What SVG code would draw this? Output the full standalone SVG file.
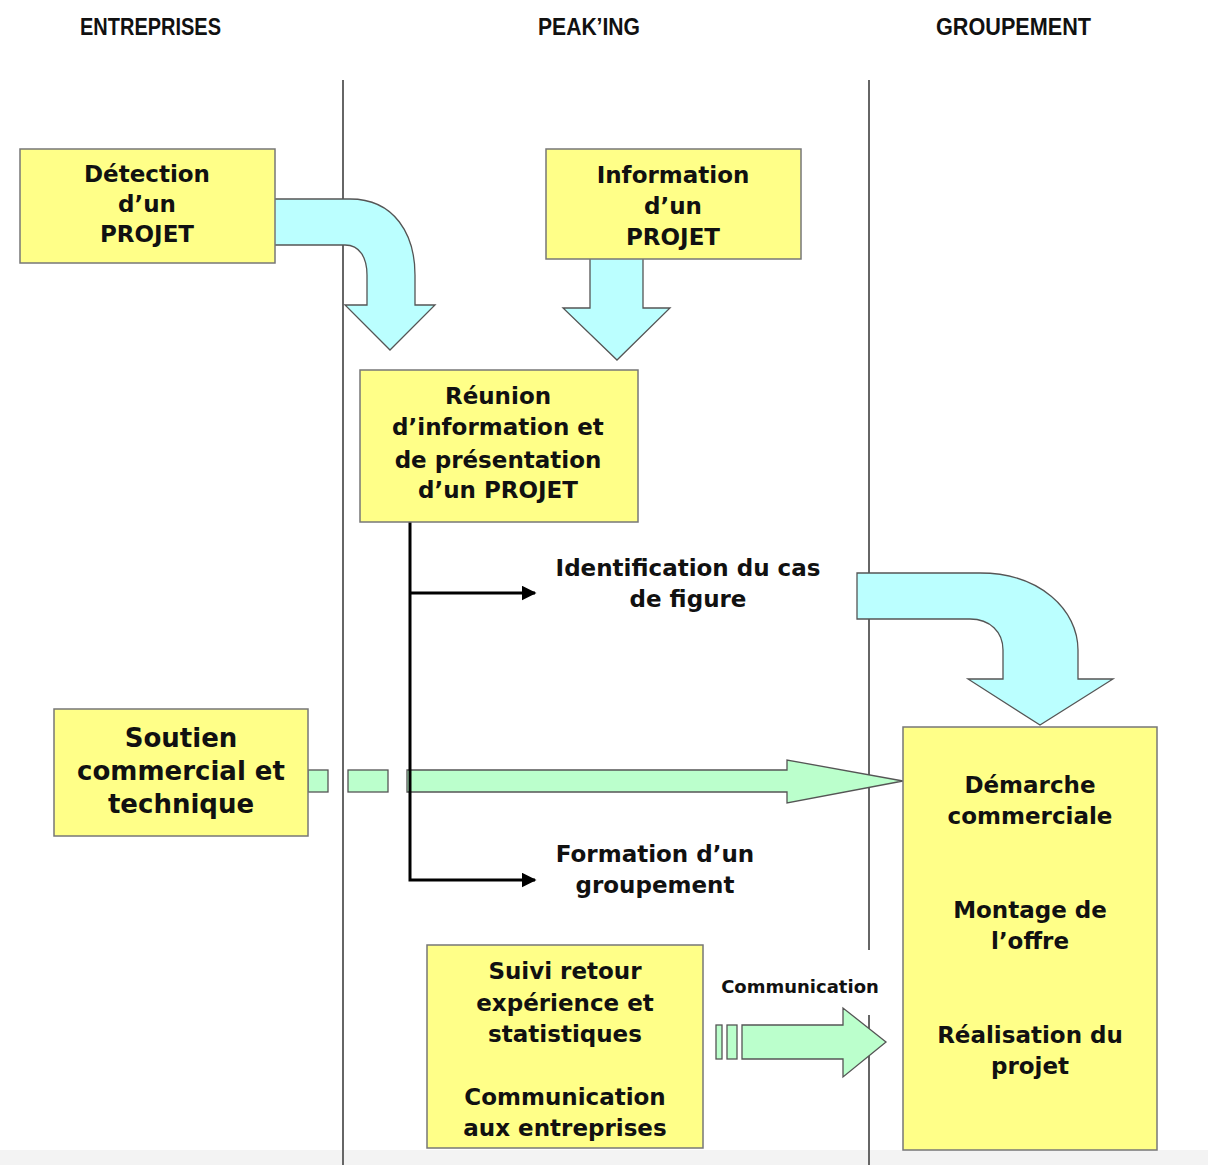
<svg xmlns="http://www.w3.org/2000/svg" width="1208" height="1165" viewBox="0 0 1208 1165">
<defs>
<marker id="ah" viewBox="0 0 10 10" refX="9" refY="5" markerWidth="5" markerHeight="5" markerUnits="strokeWidth" orient="auto">
<path d="M0,0 L10,5 L0,10 Z" fill="#000"/>
</marker>
<style>
.box{fill:#ffff88;stroke:#777;stroke-width:1.5}
.cy{fill:#bbffff;stroke:#555;stroke-width:1.3}
.gr{fill:#bbffcc;stroke:#555;stroke-width:1.3}
.t{font-family:"DejaVu Sans",Verdana,sans-serif;font-weight:bold;font-size:23px;fill:#111;text-anchor:middle}
.big{font-size:26px}
.sm{font-size:18px}
.h{font-family:"Liberation Sans",Arial,sans-serif;font-weight:bold;font-size:24px;fill:#111}
.lane{stroke:#666;stroke-width:2;fill:none}
.conn{stroke:#000;stroke-width:3;fill:none}
</style>
</defs>
<rect x="0" y="0" width="1208" height="1165" fill="#fff"/>
<rect x="0" y="1150" width="1208" height="15" fill="#f3f3f3"/>
<g id="headers">
<text class="h" x="80" y="35" textLength="141" lengthAdjust="spacingAndGlyphs">ENTREPRISES</text>
<text class="h" x="538" y="35" textLength="102" lengthAdjust="spacingAndGlyphs">PEAK’ING</text>
<text class="h" x="936" y="35" textLength="155" lengthAdjust="spacingAndGlyphs">GROUPEMENT</text>
</g>
<g id="lanes">
<line class="lane" x1="343" y1="80" x2="343" y2="1165"/>
<line class="lane" x1="869" y1="80" x2="869" y2="950"/>
<line class="lane" x1="869" y1="1015" x2="869" y2="1165"/>
</g>
<g id="connectors">
<path class="cy" d="M272,199 L350,199 C395,199 415,235 415,275 L415,305 L435,305 L390,350 L345,305 L367,305 L367,275 C367,258 360,245 345,245 L272,245 Z"/>
<path class="cy" d="M590,257 L643,257 L643,308 L670,308 L617,360 L563,308 L590,308 Z"/>
<path class="cy" d="M857,573 L980,573 C1040,573 1078,610 1078,650 L1078,679 L1113,679 L1040,725 L968,679 L1003,679 L1003,650 C1003,632 990,619 970,619 L857,619 Z"/>
<rect class="gr" x="308" y="770" width="20" height="22"/>
<rect class="gr" x="348" y="770" width="40" height="22"/>
<path class="gr" d="M407,770 L787,770 L787,760 L903,781 L787,803 L787,792 L407,792 Z"/>
<path class="conn" d="M410,522 L410,880 L535,880" marker-end="url(#ah)"/>
<path class="conn" d="M410,593 L535,593" marker-end="url(#ah)"/>
<rect class="gr" x="716" y="1025" width="6" height="34"/>
<rect class="gr" x="727" y="1025" width="10" height="34"/>
<path class="gr" d="M742,1025 L843,1025 L843,1008 L886,1042 L843,1077 L843,1059 L742,1059 Z"/>
<text class="t sm" x="800" y="993">Communication</text>
<text class="t" x="688" y="576">Identification du cas</text>
<text class="t" x="688" y="607">de figure</text>
<text class="t" x="655" y="862">Formation d’un</text>
<text class="t" x="655" y="893">groupement</text>
</g>
<g id="detection">
<rect class="box" x="20" y="149" width="255" height="114"/>
<text class="t" x="147" y="182">Détection</text>
<text class="t" x="147" y="212">d’un</text>
<text class="t" x="147" y="242">PROJET</text>
</g>
<g id="information">
<rect class="box" x="546" y="149" width="255" height="110"/>
<text class="t" x="673" y="183">Information</text>
<text class="t" x="673" y="214">d’un</text>
<text class="t" x="673" y="245">PROJET</text>
</g>
<g id="reunion">
<rect class="box" x="360" y="370" width="278" height="152"/>
<text class="t" x="498" y="404">Réunion</text>
<text class="t" x="498" y="435">d’information et</text>
<text class="t" x="498" y="468">de présentation</text>
<text class="t" x="498" y="498">d’un PROJET</text>
</g>
<g id="soutien">
<rect class="box" x="54" y="709" width="254" height="127"/>
<text class="t big" x="181" y="747">Soutien</text>
<text class="t big" x="181" y="780">commercial et</text>
<text class="t big" x="181" y="813">technique</text>
</g>
<g id="groupement">
<rect class="box" x="903" y="727" width="254" height="423"/>
<text class="t" x="1030" y="793">Démarche</text>
<text class="t" x="1030" y="824">commerciale</text>
<text class="t" x="1030" y="918">Montage de</text>
<text class="t" x="1030" y="949">l’offre</text>
<text class="t" x="1030" y="1043">Réalisation du</text>
<text class="t" x="1030" y="1074">projet</text>
</g>
<g id="suivi">
<rect class="box" x="427" y="945" width="276" height="203"/>
<text class="t" x="565" y="979">Suivi retour</text>
<text class="t" x="565" y="1011">expérience et</text>
<text class="t" x="565" y="1042">statistiques</text>
<text class="t" x="565" y="1105">Communication</text>
<text class="t" x="565" y="1136">aux entreprises</text>
</g>
</svg>
